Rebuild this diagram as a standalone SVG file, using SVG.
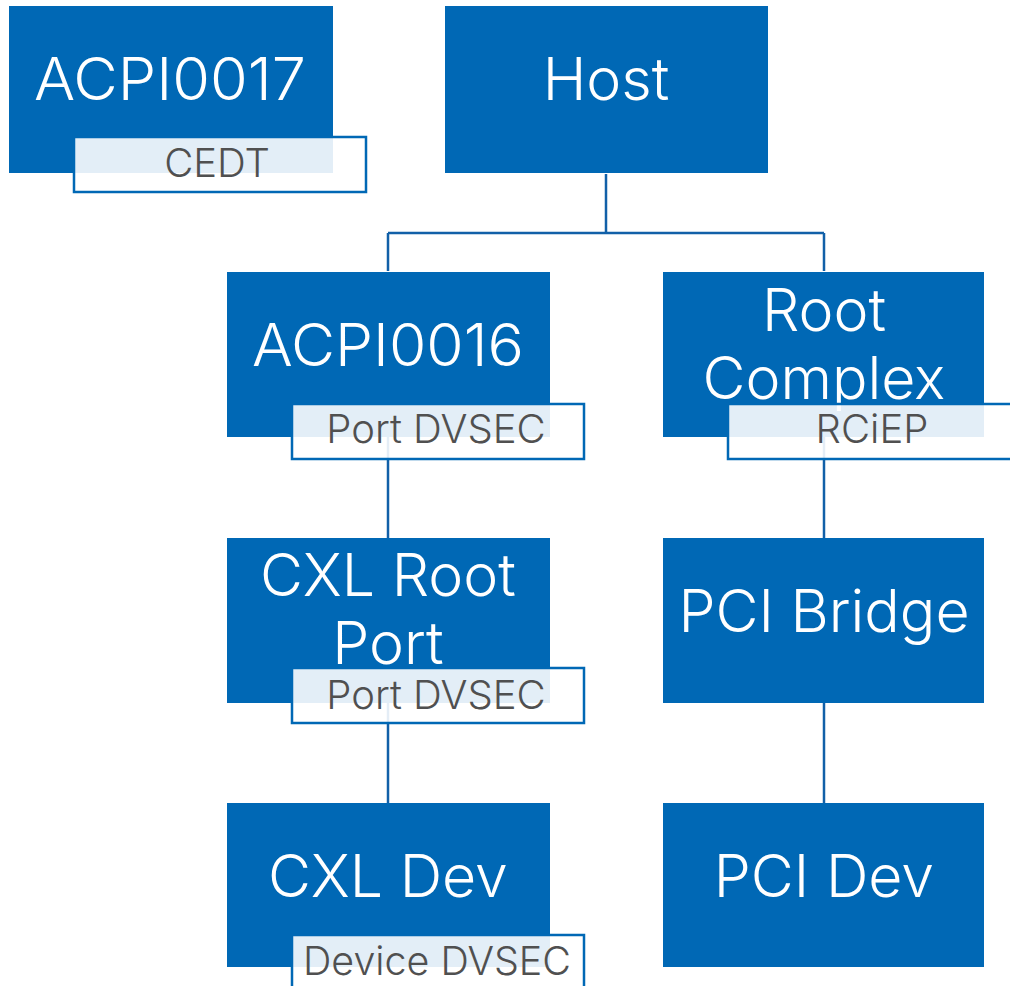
<svg xmlns="http://www.w3.org/2000/svg" width="1010" height="986" viewBox="0 0 1010 986">
<style>
.box{fill:#0068b5;}
.lbl{fill:#ffffff;fill-opacity:0.89;stroke:#0068b5;stroke-width:2.5;}
.t{font-family:Inter,"Liberation Sans",sans-serif;font-weight:340;font-size:59px;fill:#ffffff;text-anchor:middle;}
.s{font-family:Inter,"Liberation Sans",sans-serif;font-weight:340;font-size:40px;fill:#505050;text-anchor:middle;}
.c{fill:none;stroke:#1160a8;stroke-width:2.5;}
</style>
<rect width="1010" height="986" fill="#ffffff"/>
<g id="connectors">
<path class="c" d="M606 174 V233 M388 233 H824 M388 233 V271 M824 233 V271"/>
<path class="c" d="M388 437 V538"/>
<path class="c" d="M824 437 V538"/>
<path class="c" d="M388 703 V803"/>
<path class="c" d="M824 703 V803"/>
</g>
<g id="acpi0017">
<rect class="box" x="9" y="6" width="324" height="167"/>
<text class="t" x="170" y="100" textLength="272" lengthAdjust="spacingAndGlyphs">ACPI0017</text>
<rect class="lbl" x="74" y="137" width="292" height="55"/>
<text class="s" x="217" y="177">CEDT</text>
</g>
<g id="host">
<rect class="box" x="445" y="6" width="323" height="167"/>
<text class="t" x="606" y="100">Host</text>
</g>
<g id="acpi0016">
<rect class="box" x="227" y="272" width="323" height="165"/>
<text class="t" x="388" y="366" textLength="272" lengthAdjust="spacingAndGlyphs">ACPI0016</text>
<rect class="lbl" x="292" y="404" width="292" height="55"/>
<text class="s" x="436" y="443">Port DVSEC</text>
</g>
<g id="rootcomplex">
<rect class="box" x="663" y="272" width="321" height="165"/>
<text class="t" x="824" y="331">Root</text>
<text class="t" x="824" y="399">Complex</text>
<rect class="lbl" x="728" y="404" width="300" height="55"/>
<text class="s" x="872" y="443">RCiEP</text>
</g>
<g id="cxlrootport">
<rect class="box" x="227" y="538" width="323" height="165"/>
<text class="t" x="388" y="596">CXL Root</text>
<text class="t" x="388" y="664">Port</text>
<rect class="lbl" x="292" y="668" width="292" height="55"/>
<text class="s" x="436" y="709">Port DVSEC</text>
</g>
<g id="pcibridge">
<rect class="box" x="663" y="538" width="321" height="165"/>
<text class="t" x="824" y="632">PCI Bridge</text>
</g>
<g id="cxldev">
<rect class="box" x="227" y="803" width="323" height="164"/>
<text class="t" x="388" y="897">CXL Dev</text>
<rect class="lbl" x="292" y="935" width="292" height="70"/>
<text class="s" x="437" y="975" textLength="268" lengthAdjust="spacingAndGlyphs">Device DVSEC</text>
</g>
<g id="pcidev">
<rect class="box" x="663" y="803" width="321" height="164"/>
<text class="t" x="824" y="897">PCI Dev</text>
</g>
</svg>
